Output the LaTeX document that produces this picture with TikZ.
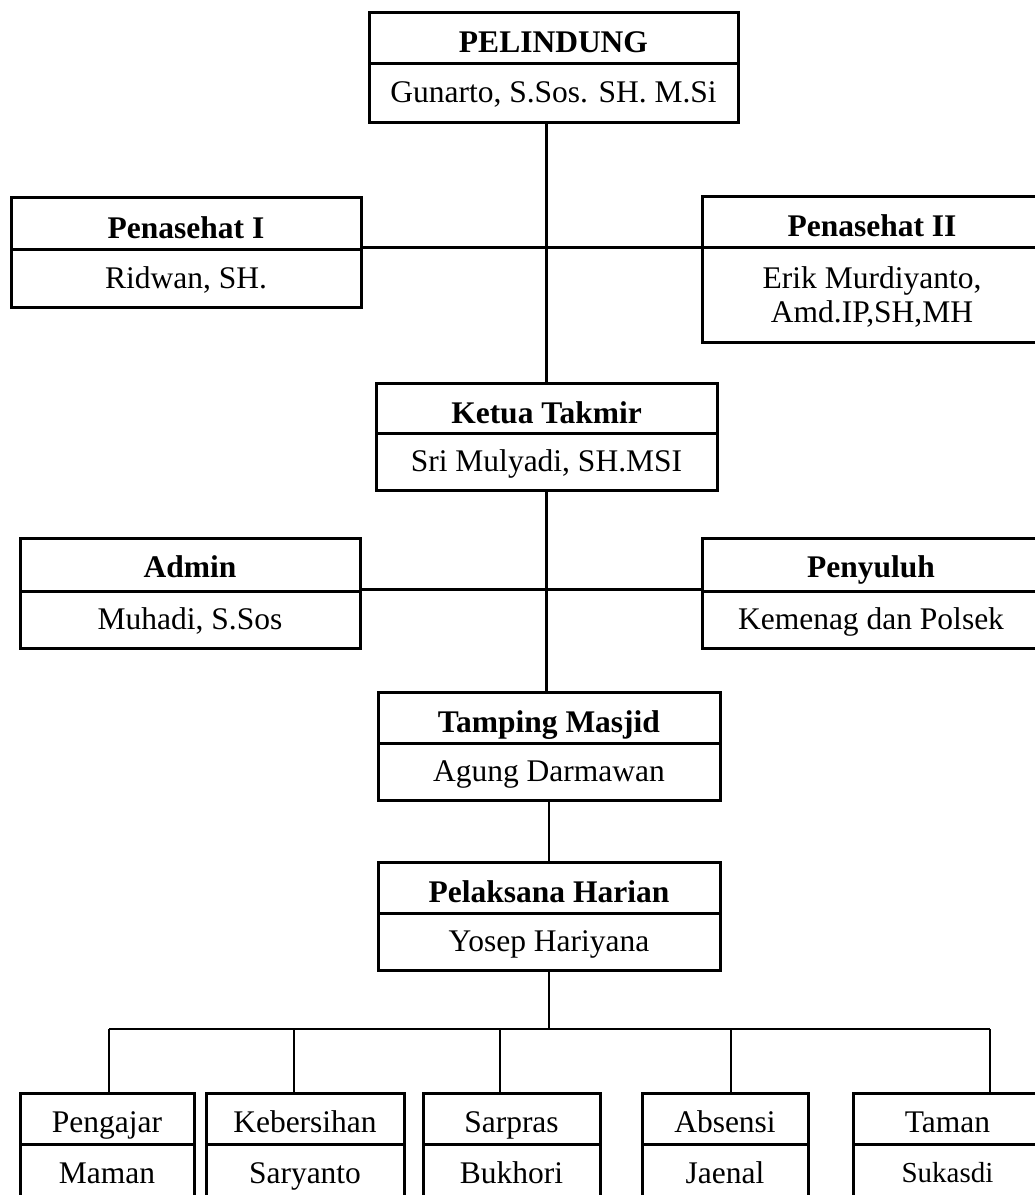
\documentclass[tikz,border=0pt]{standalone}
\usepackage{fontspec}
\setmainfont{Liberation Serif}
\begin{document}
\begin{tikzpicture}[x=1pt,y=-1pt,
  frame/.style={draw, line width=3pt, inner sep=0pt, align=center,
    font=\fontsize{31.5}{34}\selectfont},
  cell/.style={frame, text height=20pt, text depth=0pt},
  ttl/.style={cell, font=\fontsize{31.5}{34}\selectfont\bfseries, text height=30pt},
  sub/.style={cell, text height=27pt},
  conn/.style={line width=2.2pt}]
\useasboundingbox (0,0) rectangle (1035,1195);
\clip (0,0) rectangle (1035,1195);
% PELINDUNG
\node[ttl, minimum width=369pt, minimum height=51pt] (pel-t) at (553.5,37.5) {PELINDUNG};
\node[cell, minimum width=369pt, minimum height=59pt] (pel-b) at (553.5,92.5) {Gunarto, S.Sos. SH. M.Si};
% Penasehat I
\node[ttl, minimum width=350pt, minimum height=52pt] (pen1-t) at (186,223) {Penasehat I};
\node[cell, minimum width=350pt, minimum height=58pt] (pen1-b) at (186,278) {Ridwan, SH.};
% Penasehat II
\node[ttl, minimum width=340pt, minimum height=51pt] (pen2-t) at (872,221.5) {Penasehat II};
\node[frame, text depth=0pt, minimum width=340pt, minimum height=95pt] (pen2-b) at (872,294.5) {Erik Murdiyanto,\\Amd.IP,SH,MH};
% Ketua Takmir
\node[ttl, minimum width=341pt, minimum height=50pt] (ket-t) at (546.5,408) {Ketua Takmir};
\node[cell, minimum width=341pt, minimum height=57pt] (ket-b) at (546.5,461.5) {Sri Mulyadi, SH.MSI};
% Admin
\node[ttl, minimum width=340pt, minimum height=53pt, text height=26pt] (adm-t) at (190,564.5) {Admin};
\node[cell, minimum width=340pt, minimum height=57pt] (adm-b) at (190,619.5) {Muhadi, S.Sos};
% Penyuluh
\node[ttl, minimum width=338pt, minimum height=53pt, text height=26pt] (pny-t) at (871,564.5) {Penyuluh};
\node[cell, minimum width=338pt, minimum height=57pt] (pny-b) at (871,619.5) {Kemenag dan Polsek};
% Tamping Masjid
\node[ttl, minimum width=342pt, minimum height=51pt] (tmp-t) at (549,717.5) {Tamping Masjid};
\node[cell, minimum width=342pt, minimum height=57pt] (tmp-b) at (549,771.5) {Agung Darmawan};
% Pelaksana Harian
\node[ttl, minimum width=342pt, minimum height=51pt] (plh-t) at (549,887.5) {Pelaksana Harian};
\node[cell, minimum width=342pt, minimum height=57pt] (plh-b) at (549,941.5) {Yosep Hariyana};
% bottom row
\node[sub, minimum width=174pt, minimum height=51pt] (b1-t) at (107,1118.5) {Pengajar};
\node[cell, minimum width=174pt, minimum height=60pt, text height=18pt] (b1-b) at (107,1174) {Maman};
\node[sub, minimum width=198pt, minimum height=51pt] (b2-t) at (305,1118.5) {Kebersihan};
\node[cell, minimum width=198pt, minimum height=60pt, text height=18pt] (b2-b) at (305,1174) {Saryanto};
\node[sub, minimum width=177pt, minimum height=51pt] (b3-t) at (511.5,1118.5) {Sarpras};
\node[cell, minimum width=177pt, minimum height=60pt, text height=18pt] (b3-b) at (511.5,1174) {Bukhori};
\node[sub, minimum width=166pt, minimum height=51pt] (b4-t) at (725,1118.5) {Absensi};
\node[cell, minimum width=166pt, minimum height=60pt, text height=18pt] (b4-b) at (725,1174) {Jaenal};
\node[sub, minimum width=189pt, minimum height=51pt] (b5-t) at (947.5,1118.5) {Taman};
\node[cell, minimum width=189pt, minimum height=60pt, text height=16pt, font=\fontsize{29}{34}\selectfont] (b5-b) at (947.5,1174) {Sukasdi};
% bus coordinates
\coordinate (c1) at (109,1029);
\coordinate (c2) at (294,1029);
\coordinate (c3) at (500,1029);
\coordinate (c4) at (731,1029);
\coordinate (c5) at (990,1029);
% connectors
\draw[conn] (ket-t.north |- pel-b.south) -- (ket-t.north);
\draw[conn] (pen1-b.north east) -- (pen1-b.north east -| pen2-b.west);
\draw[conn] (ket-b.south) -- (ket-b.south |- tmp-t.north);
\draw[conn] (adm-b.north east) -- (adm-b.north east -| pny-b.west);
\draw[conn] (tmp-b.south) -- (plh-t.north);
\draw[conn] (plh-b.south) -- (plh-b.south |- c1);
\draw[conn] (c1) -- (c5);
\draw[conn] (c1) -- (c1 |- b1-t.north);
\draw[conn] (c2) -- (c2 |- b2-t.north);
\draw[conn] (c3) -- (c3 |- b3-t.north);
\draw[conn] (c4) -- (c4 |- b4-t.north);
\draw[conn] (c5) -- (c5 |- b5-t.north);
\end{tikzpicture}
\end{document}
